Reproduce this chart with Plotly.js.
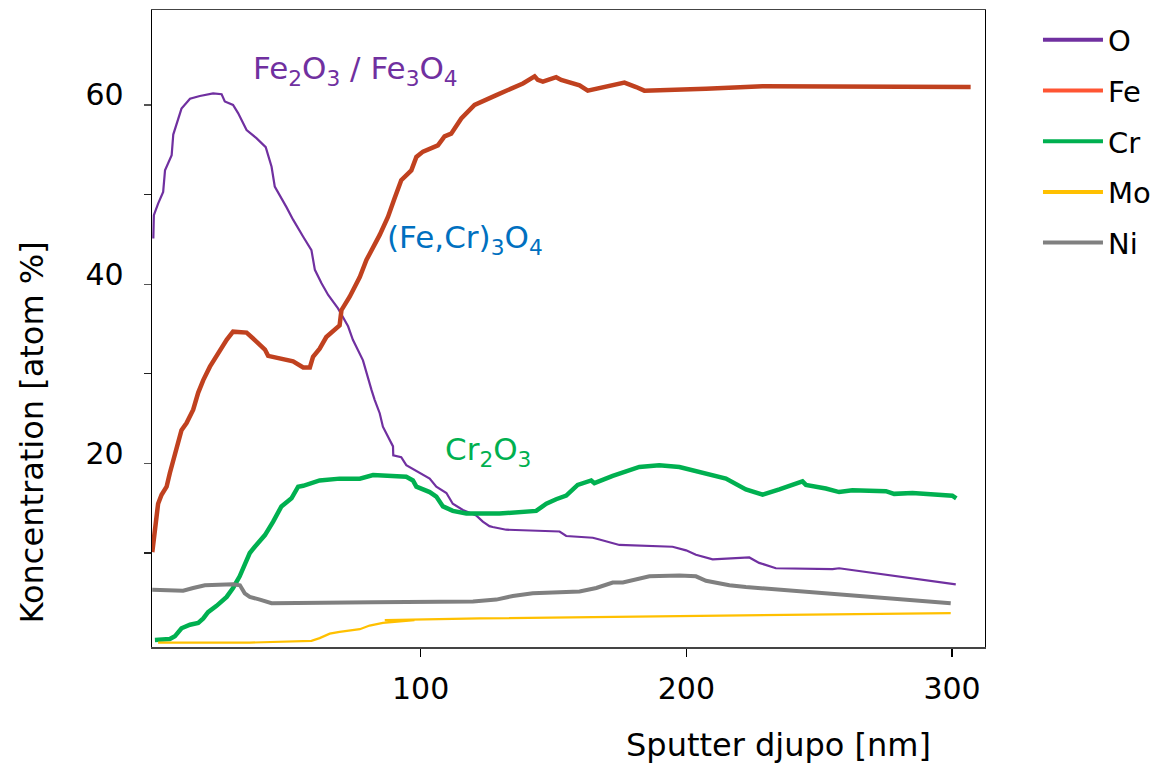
<!DOCTYPE html>
<html>
<head>
<meta charset="utf-8">
<script src="https://cdn.plot.ly/plotly-3.0.1.min.js"></script>
<style>html,body{margin:0;padding:0;background:#fff;}#chart{width:1171px;height:766px;}</style>
</head>
<body>
<div id="chart"></div>
<script>
// ---- data ----
const seriesNames = ['O', 'Fe', 'Cr', 'Mo', 'Ni'];

const oX = [-0.6, -0.4, 1.2, 3.1, 3.8, 6.3, 6.9, 10.0, 13.2, 16.9, 21.9, 25.1, 26.3, 29.4, 31.3, 34.5, 38.2, 41.7, 43.9, 45.1, 49.5, 52.0, 55.8, 58.9, 60.2, 62.7, 65.2, 68.9, 72.7, 74.5, 78.3, 79.6, 81.5, 82.7, 84.6, 85.8, 88.3, 89.6, 89.7, 92.7, 94.6, 99.6, 103.4, 105.9, 109.7, 112.1, 115.9, 120.9, 123.4, 125.9, 127.1, 132.2, 152.3, 154.8, 164.8, 167.3, 174.8, 194.8, 199.9, 203.6, 209.9, 223.7, 227.4, 233.7, 255.0, 257.5, 272.6, 301.4];
const oY = [45.1, 47.7, 49.0, 50.3, 52.7, 54.4, 56.7, 59.6, 60.7, 61.0, 61.3, 61.2, 60.4, 60.0, 59.1, 57.2, 56.3, 55.3, 53.1, 50.9, 48.6, 47.2, 45.3, 43.8, 41.6, 40.1, 38.8, 37.3, 35.3, 33.8, 31.5, 30.1, 28.2, 27.1, 25.6, 24.1, 22.6, 21.9, 20.9, 20.7, 19.8, 18.9, 18.3, 17.4, 16.7, 15.5, 14.8, 14.2, 13.5, 13.0, 12.9, 12.6, 12.4, 11.9, 11.7, 11.5, 10.9, 10.7, 10.3, 9.8, 9.3, 9.5, 8.9, 8.3, 8.2, 8.3, 7.7, 6.5];

const feX = [-1.0, 0.0, 1.2, 2.5, 4.4, 5.6, 6.9, 8.2, 10.0, 11.9, 14.4, 16.3, 18.2, 20.7, 23.8, 27.0, 29.4, 34.5, 38.2, 41.4, 42.6, 48.2, 52.0, 55.8, 58.3, 59.5, 62.0, 64.5, 68.3, 69.5, 70.2, 73.3, 77.1, 79.6, 84.6, 87.7, 90.2, 92.7, 96.5, 98.4, 100.9, 106.5, 109.0, 111.5, 115.3, 120.3, 128.5, 134.7, 138.5, 142.9, 144.1, 146.0, 151.0, 152.9, 159.8, 162.9, 171.1, 176.7, 181.1, 184.2, 207.4, 228.7, 307.0];
const feY = [10.1, 12.9, 15.5, 16.5, 17.4, 18.9, 20.2, 21.5, 23.7, 24.5, 26.0, 27.9, 29.3, 30.8, 32.3, 33.8, 34.7, 34.6, 33.6, 32.7, 32.0, 31.7, 31.4, 30.7, 30.7, 31.9, 32.8, 34.1, 35.1, 35.4, 37.1, 38.6, 40.8, 42.7, 45.5, 47.5, 49.6, 51.6, 52.7, 54.2, 54.8, 55.5, 56.5, 56.8, 58.5, 60.0, 61.1, 61.9, 62.4, 63.2, 62.8, 62.6, 63.1, 62.8, 62.2, 61.6, 62.2, 62.5, 62.0, 61.6, 61.8, 62.1, 62.0];

const crX = [0.0, 5.6, 7.5, 10.0, 13.2, 16.3, 18.2, 20.0, 23.2, 27.0, 29.4, 31.9, 33.8, 35.7, 37.6, 41.4, 44.5, 47.6, 51.4, 53.9, 55.8, 62.0, 69.5, 77.1, 82.1, 94.6, 97.1, 98.4, 103.4, 105.9, 108.4, 112.1, 117.2, 129.7, 143.5, 147.3, 151.0, 154.8, 159.1, 164.2, 165.4, 172.3, 182.3, 189.8, 197.4, 214.9, 222.4, 228.7, 235.0, 243.7, 245.0, 252.5, 257.5, 262.5, 275.1, 278.2, 285.1, 300.1, 301.6];
const crY = [0.3, 0.4, 0.7, 1.6, 2.0, 2.2, 2.7, 3.4, 4.1, 5.1, 6.1, 7.4, 8.7, 10.0, 10.7, 12.0, 13.5, 15.2, 16.1, 17.4, 17.5, 18.1, 18.3, 18.3, 18.7, 18.5, 18.1, 17.4, 16.8, 16.3, 15.2, 14.7, 14.4, 14.4, 14.7, 15.5, 16.0, 16.4, 17.6, 18.1, 17.8, 18.6, 19.6, 19.8, 19.6, 18.3, 17.1, 16.5, 17.1, 18.0, 17.6, 17.2, 16.8, 17.0, 16.9, 16.6, 16.7, 16.4, 16.1];

const moX = [1.2, 19.4, 35.7, 58.9, 62.0, 65.8, 69.5, 77.1, 80.8, 85.8, 89.6, 94.6, 97.7, 86.5, 122.2, 299.5];
const moY = [0.0, 0.0, 0.0, 0.2, 0.5, 1.0, 1.2, 1.5, 1.9, 2.2, 2.3, 2.5, 2.5, 2.5, 2.7, 3.3];

const niX = [-1.0, 10.6, 14.4, 18.8, 29.4, 32.0, 33.8, 35.7, 39.5, 43.9, 82.1, 119.7, 128.5, 134.7, 142.2, 159.8, 166.1, 172.3, 176.1, 182.3, 186.1, 197.4, 203.6, 207.4, 216.2, 222.4, 247.5, 272.6, 299.5];
const niY = [5.9, 5.8, 6.1, 6.4, 6.5, 6.4, 5.5, 5.1, 4.8, 4.4, 4.5, 4.6, 4.8, 5.2, 5.5, 5.7, 6.1, 6.7, 6.7, 7.1, 7.4, 7.5, 7.4, 6.9, 6.4, 6.2, 5.6, 5.0, 4.4];

const xTickVals = [100, 200, 300];
const xTickText = ['100', '200', '300'];
const yTickVals = [20, 40, 60];
const yTickText = ['20', '40', '60'];
const yMinorTickVals = [10, 30, 50];

const phaseLabels = ['Fe<sub>2</sub>O<sub>3</sub> / Fe<sub>3</sub>O<sub>4</sub>', '(Fe,Cr)<sub>3</sub>O<sub>4</sub>', 'Cr<sub>2</sub>O<sub>3</sub>'];
const phaseX = [36.0, 86.5, 108.3];
const phaseY = [63.8, 45.0, 21.3];

const xTitle = 'Sputter djupo [nm]';
const yTitle = 'Koncentration [atom %]';

// ---- styles ----
const FONT = 'DejaVu Sans, Verdana, sans-serif';
const curveColors = ['#7030A0', '#C0411F', '#00B050', '#FFC000', '#808080'];
const legendColors = ['#7030A0', '#FF5533', '#00B050', '#FFC000', '#808080'];
const curveWidths = [2.2, 4.5, 4.5, 2.2, 4];
const phaseColors = ['#7030A0', '#0070C0', '#00B050'];

const xs = [oX, feX, crX, moX, niX];
const ys = [oY, feY, crY, moY, niY];

const traces = [];
for (let i = 0; i < seriesNames.length; i++) {
  traces.push({
    x: xs[i], y: ys[i], type: 'scatter', mode: 'lines', name: seriesNames[i],
    line: {color: curveColors[i], width: curveWidths[i]}, showlegend: false,
    hoverinfo: 'x+y+name'
  });
}
for (let i = 0; i < seriesNames.length; i++) {
  traces.push({
    x: [null], y: [null], type: 'scatter', mode: 'lines', name: seriesNames[i],
    line: {color: legendColors[i], width: 4}, showlegend: true,
    legendgroup: 'g' + i
  });
}

const annotations = [];
for (let i = 0; i < phaseLabels.length; i++) {
  annotations.push({
    x: phaseX[i], y: phaseY[i], xref: 'x', yref: 'y', text: phaseLabels[i],
    showarrow: false, xanchor: 'left', yanchor: 'middle',
    font: {family: FONT, size: 31, color: phaseColors[i]}
  });
}
annotations.push({
  x: 0.752, y: -0.154, xref: 'paper', yref: 'paper', text: xTitle, showarrow: false,
  xanchor: 'center', yanchor: 'middle', font: {family: FONT, size: 32, color: '#000'}
});
annotations.push({
  x: -0.144, y: 0.337, xref: 'paper', yref: 'paper', text: yTitle, showarrow: false,
  textangle: -90, xanchor: 'center', yanchor: 'middle', font: {family: FONT, size: 32, color: '#000'}
});

const layout = {
  width: 1171, height: 766,
  margin: {l: 152, r: 186, t: 10, b: 119, pad: 0},
  paper_bgcolor: '#fff', plot_bgcolor: '#fff',
  font: {family: FONT, size: 29, color: '#000'},
  showlegend: true,
  legend: {
    x: 1.0636, xanchor: 'left', y: 0.993, yanchor: 'top',
    font: {family: FONT, size: 29, color: '#000'},
    tracegroupgap: 10, itemwidth: 60, bgcolor: 'rgba(0,0,0,0)'
  },
  xaxis: {
    range: [-1.1, 312.4], tickvals: xTickVals, ticktext: xTickText,
    ticks: 'outside', ticklen: 8, tickcolor: '#000', tickwidth: 1.3,
    showline: true, linecolor: '#444', linewidth: 1.5, mirror: true,
    showgrid: false, zeroline: false, ticklabelstandoff: 6,
    tickfont: {family: FONT, size: 30, color: '#000'}
  },
  yaxis: {
    range: [-0.49, 70.6], tickvals: yTickVals, ticktext: yTickText,
    ticks: 'outside', ticklen: 7, tickcolor: '#555', tickwidth: 1.3,
    minor: {tickvals: yMinorTickVals, ticks: 'outside', ticklen: 7, tickcolor: '#222', tickwidth: 1.3, showgrid: false},
    showline: true, linecolor: '#000', linewidth: 1.3, mirror: true,
    showgrid: false, zeroline: false, ticklabelstandoff: 14, ticklabelshift: -10,
    tickfont: {family: FONT, size: 30, color: '#000'}
  },
  annotations: annotations
};

Plotly.newPlot('chart', traces, layout, {displayModeBar: false, staticPlot: true});
</script>
</body>
</html>
